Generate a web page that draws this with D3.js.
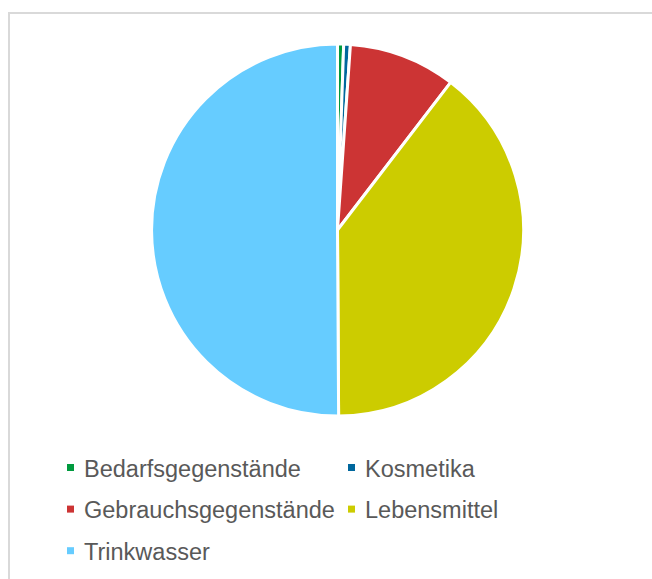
<!DOCTYPE html>
<html>
<head>
<meta charset="utf-8">
<script src="https://cdn.jsdelivr.net/npm/d3@7"></script>
<style>
  html, body { margin: 0; padding: 0; background: #fff; }
  svg { display: block; }
</style>
</head>
<body>
<svg id="chart"></svg>
<script>
// PIE JS
var categories = ["Bedarfsgegenstände", "Kosmetika", "Gebrauchsgegenstände", "Lebensmittel", "Trinkwasser"],
  values = [0.53, 0.58, 9.3, 39.5, 50.1],
  colors = ["#009a3e", "#00679d", "#cc3434", "#cccc00", "#66ccff"];

var width = 652,
  height = 579,
  cx = 337.5,
  cy = 230,
  radius = 186;

var svg = d3.select("#chart")
  .attr("width", width)
  .attr("height", height);

// chart area border (cropped at right and bottom like the screenshot)
svg.append("rect")
  .attr("x", 9)
  .attr("y", 13)
  .attr("width", 700)
  .attr("height", 700)
  .attr("fill", "#fff")
  .attr("stroke", "#d9d9d9")
  .attr("stroke-width", 2);

var color = d3.scaleOrdinal()
  .domain(categories)
  .range(colors);

var pie = d3.pie()
  .sort(null)
  .value(function(d, i) { return values[i]; });

var arc = d3.arc()
  .innerRadius(0)
  .outerRadius(radius);

var g = svg.append("g")
  .attr("transform", "translate(" + cx + "," + cy + ")");

g.selectAll("path")
  .data(pie(categories))
  .enter().append("path")
    .attr("d", arc)
    .attr("fill", function(d) { return color(d.data); })
    .attr("stroke", "#fff")
    .attr("stroke-width", 3)
    .attr("stroke-linejoin", "round");

// Legend: two columns, rows 41.6px apart
var legendX = [67, 348],
  legendTop = 464,
  rowStep = 41.6;

var legend = svg.append("g")
  .selectAll("g")
  .data(categories)
  .enter().append("g")
    .attr("transform", function(d, i) {
      return "translate(" + legendX[i % 2] + "," + (legendTop + Math.floor(i / 2) * rowStep) + ")";
    });

legend.append("rect")
  .attr("width", 7)
  .attr("height", 7)
  .attr("fill", function(d) { return color(d); });

legend.append("text")
  .attr("x", 17)
  .attr("y", 12.7)
  .attr("fill", "#595959")
  .style("font-family", "'Liberation Sans', Arial, sans-serif")
  .style("font-size", "23.5px")
  .text(function(d) { return d; });
</script>
</body>
</html>
